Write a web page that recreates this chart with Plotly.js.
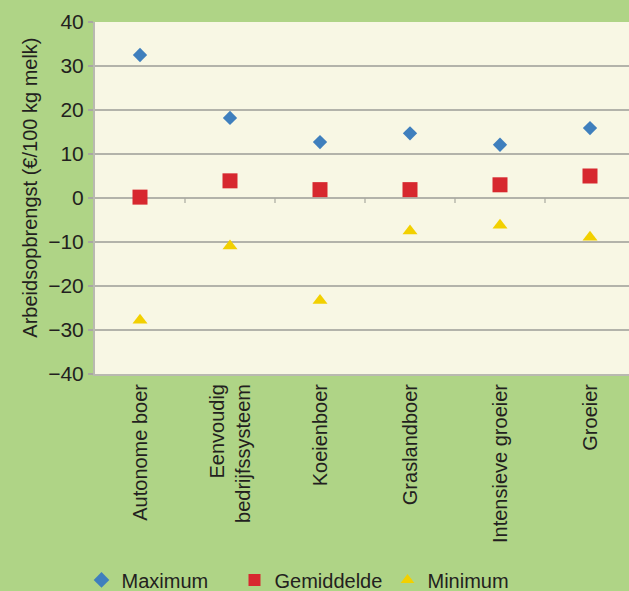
<!DOCTYPE html>
<html>
<head>
<meta charset="utf-8">
<script src="https://cdn.plot.ly/plotly-3.0.1.min.js"></script>
<style>
  html, body { margin: 0; padding: 0; overflow: hidden; background: #afd486; }
  #chart { width: 642px; height: 591px; }
</style>
</head>
<body>
<div id="chart"></div>
<script>
// Bedrijfstypen (categorieën op de x-as)
var categories = ['Autonome boer', 'Eenvoudig<br>bedrijfssysteem', 'Koeienboer', 'Graslandboer', 'Intensieve groeier', 'Groeier'];
// Arbeidsopbrengst per bedrijfstype (€/100 kg melk)
var maximum    = [32.5, 18.2, 12.7, 14.7, 12.1, 15.9];
var gemiddelde = [0.2, 3.9, 1.9, 1.9, 3.0, 5.0];
var minimum    = [-27.8, -10.9, -23.3, -7.5, -6.2, -8.9];
var yTicks = [-40, -30, -20, -10, 0, 10, 20, 30, 40];
var yTitle = 'Arbeidsopbrengst (€/100 kg melk)';

var idx = categories.map(function (c, i) { return i; });
// grenzen tussen de categorieën: kleine streepjes op de nullijn
var boundaries = categories.slice(1).map(function (c, i) { return i + 0.5; });

var FONT = 'Liberation Sans, Arial, sans-serif';
var INK = '#231f20';
var GRID = '#b3b3aa';

var traces = [
  { name: 'Maximum', x: idx, y: maximum, type: 'scatter', mode: 'markers',
    marker: { symbol: 'diamond', size: 11, color: '#3f7fbd' } },
  { name: 'Gemiddelde', x: idx, y: gemiddelde, type: 'scatter', mode: 'markers',
    marker: { symbol: 'square', size: 15, color: '#d7282f' } },
  { name: 'Minimum', x: idx, y: minimum, type: 'scatter', mode: 'markers',
    marker: { symbol: 'triangle-up', size: 13, color: '#f2d000' } }
];

var tickShapes = boundaries.map(function (b) {
  return {
    type: 'line', xref: 'x', yref: 'y', ysizemode: 'pixel', yanchor: 0,
    x0: b, x1: b, y0: 0, y1: -5,
    line: { color: '#a9a9a0', width: 1.2 }, layer: 'above'
  };
});

var layout = {
  width: 642, height: 591,
  margin: { l: 95, r: 7, t: 22, b: 217, autoexpand: false },
  paper_bgcolor: '#afd486',
  plot_bgcolor: '#f8f7e4',
  font: { family: FONT, size: 20, color: INK },
  showlegend: true,
  legend: {
    orientation: 'h', xref: 'paper', x: -0.025, xanchor: 'left',
    yref: 'paper', y: -0.585, yanchor: 'middle',
    entrywidth: 108, entrywidthmode: 'pixels',
    font: { family: FONT, size: 20, color: INK }, bgcolor: 'rgba(0,0,0,0)',
    itemsizing: 'constant', itemclick: false
  },
  shapes: tickShapes,
  // astitel als losse, gedraaide tekst zodat hij iets boven het midden staat
  annotations: [{
    text: yTitle, textangle: -90, showarrow: false,
    xref: 'paper', x: -0.12, xanchor: 'center',
    yref: 'paper', y: 0.53, yanchor: 'middle',
    font: { family: FONT, size: 20, color: INK }
  }],
  xaxis: {
    type: 'linear', range: [-0.5, 5.5], automargin: false,
    tickmode: 'array', tickvals: idx, ticktext: categories,
    tickangle: -90, ticks: '', showgrid: false, zeroline: false,
    showline: true, linecolor: '#b9b9b0', linewidth: 2, mirror: false,
    tickfont: { family: FONT, size: 20, color: INK }
  },
  yaxis: {
    range: [-40, 40], automargin: false, tickmode: 'array', tickvals: yTicks,
    ticks: 'outside', ticklen: 5, tickwidth: 1.5, tickcolor: '#a9a9a0',
    showgrid: true, gridcolor: GRID, gridwidth: 1.5,
    zeroline: true, zerolinecolor: GRID, zerolinewidth: 1.5,
    showline: true, linecolor: '#b9b9b0', linewidth: 2,
    tickfont: { family: FONT, size: 21, color: INK }
  }
};

Plotly.newPlot('chart', traces, layout, { displayModeBar: false, staticPlot: true });
</script>
</body>
</html>
